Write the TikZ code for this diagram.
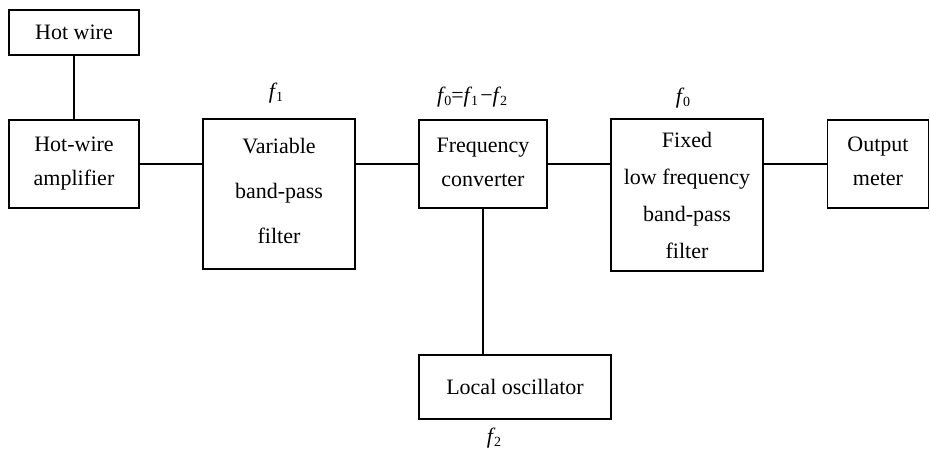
\documentclass[tikz,border=0pt]{standalone}
\usepackage{fontspec}
\setmainfont{Liberation Serif}
\newcommand\fsb[1]{\textit{f}\kern-0.06em\raisebox{-0.3ex}{\fontsize{14}{14}\selectfont #1}}
\begin{document}
\begin{tikzpicture}[x=1pt,y=-1pt,
  blk/.style={draw,line width=1.9pt,rectangle,inner sep=0pt,align=center,
    font=\fontsize{22}{34}\selectfont},
  lbl/.style={inner sep=0pt,font=\fontsize{22}{26}\selectfont},
  wire/.style={line width=1.8pt}]
\useasboundingbox (0,0) rectangle (930,451);
\node[blk,minimum width=130pt,minimum height=45pt] (hw) at (74,32.5) {Hot wire};
\node[blk,minimum width=130pt,minimum height=88pt] (amp) at (74,164) {\raisebox{4pt}{Hot-wire}\\\raisebox{4pt}{amplifier}};
\node[blk,minimum width=152pt,minimum height=150pt,font=\fontsize{22}{45}\selectfont] (vbp) at (279,194) {\raisebox{6pt}{Variable}\\\raisebox{6pt}{band-pass}\\\raisebox{6pt}{filter}};
\node[blk,minimum width=128pt,minimum height=88pt] (conv) at (483,164) {\raisebox{3pt}{Frequency}\\\raisebox{3pt}{converter}};
\node[blk,minimum width=152pt,minimum height=152pt,font=\fontsize{22}{37}\selectfont] (fix) at (687,195) {\raisebox{-4pt}{Fixed}\\\raisebox{-4pt}{low frequency}\\\raisebox{-4pt}{band-pass}\\\raisebox{-4pt}{filter}};
\node[blk,minimum width=101pt,minimum height=88pt] (out) at (878,164) {\raisebox{5pt}{Output}\\\raisebox{5pt}{meter}};
\node[blk,minimum width=192pt,minimum height=64pt] (osc) at (515,387) {Local oscillator};
\node[lbl] (f1) at (276,93) {\fsb{1}};
\node[lbl] (f0f) at (472,97) {\fsb{0}=\fsb{1}\kern0.1em−\fsb{2}};
\node[lbl] (f0) at (683,98) {\fsb{0}};
\node[lbl] (f2) at (494,438) {\fsb{2}};
\draw[wire] (hw) -- (amp);
\draw[wire] (amp.east) -- (amp.east -| vbp.west);
\draw[wire] (conv.west -| vbp.east) -- (conv.west);
\draw[wire] (conv.east) -- (conv.east -| fix.west);
\draw[wire] (out.west -| fix.east) -- (out.west);
\draw[wire] (conv.south) -- (conv.south |- osc.north);
\end{tikzpicture}
\end{document}
